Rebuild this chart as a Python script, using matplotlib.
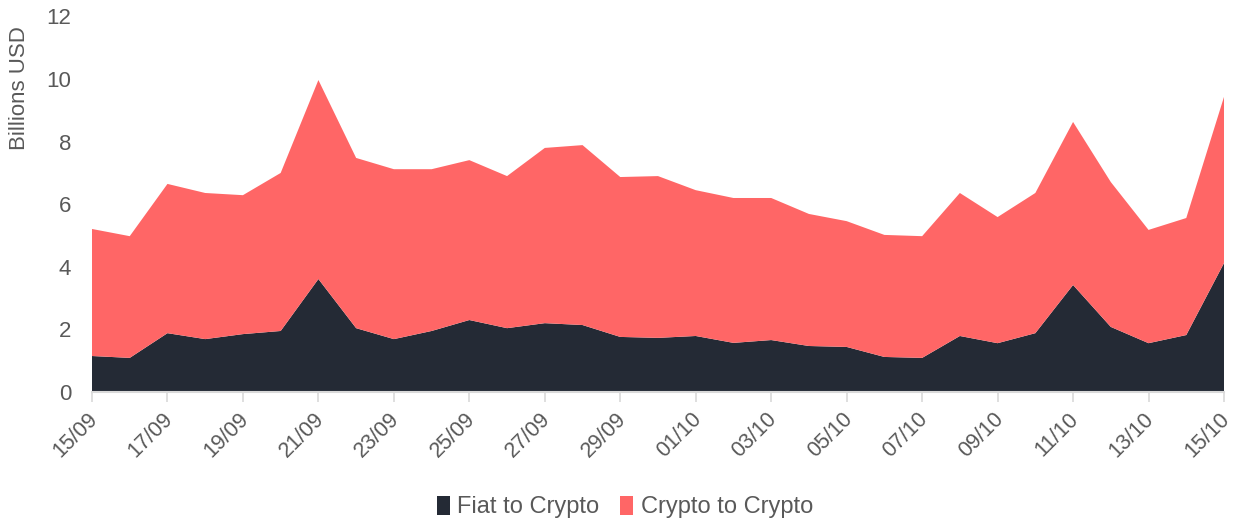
import matplotlib
matplotlib.use("Agg")
import matplotlib.pyplot as plt
import matplotlib.transforms as mtransforms
import numpy as np

plt.rcParams['font.family'] = ['Liberation Sans', 'DejaVu Sans']

dates = ["15/09", "16/09", "17/09", "18/09", "19/09", "20/09", "21/09", "22/09",
         "23/09", "24/09", "25/09", "26/09", "27/09", "28/09", "29/09", "30/09",
         "01/10", "02/10", "03/10", "04/10", "05/10", "06/10", "07/10", "08/10",
         "09/10", "10/10", "11/10", "12/10", "13/10", "14/10", "15/10"]
fiat_to_crypto = [1.15, 1.09, 1.88, 1.69, 1.85, 1.95, 3.61, 2.04,
                  1.69, 1.95, 2.30, 2.04, 2.20, 2.14, 1.76, 1.73,
                  1.79, 1.57, 1.66, 1.47, 1.44, 1.12, 1.09, 1.79,
                  1.56, 1.88, 3.42, 2.08, 1.56, 1.82, 4.12]
total = [5.21, 4.98, 6.65, 6.36, 6.29, 7.00, 9.97, 7.48,
         7.12, 7.12, 7.41, 6.90, 7.80, 7.89, 6.87, 6.90,
         6.45, 6.20, 6.20, 5.69, 5.46, 5.02, 4.98, 6.36,
         5.59, 6.36, 8.63, 6.71, 5.18, 5.56, 9.43]
crypto_to_crypto = [round(t - f, 2) for t, f in zip(total, fiat_to_crypto)]

c_fiat = "#242a35"
c_crypto = "#ff6666"
gray = "#595959"

fig = plt.figure(figsize=(12.35, 5.25), dpi=100)
ax = fig.add_axes([92/1235, 1 - 392/525, (1224-92)/1235, (392-16.5)/525])

x = np.arange(len(dates))
ax.stackplot(x, fiat_to_crypto, crypto_to_crypto, colors=[c_fiat, c_crypto],
             labels=["Fiat to Crypto", "Crypto to Crypto"], linewidth=0)

ax.set_xlim(0, len(dates) - 1)
ax.set_ylim(0, 12)
ax.set_yticks(range(0, 13, 2))
ax.set_xticks(x[::2])
ax.set_xticklabels(dates[::2], rotation=45, ha="right", rotation_mode="anchor")

for s in ["top", "right", "left"]:
    ax.spines[s].set_visible(False)
ax.spines["bottom"].set_color("#d9d9d9")
ax.spines["bottom"].set_linewidth(1.5)
ax.tick_params(axis="y", length=0, labelsize=16, labelcolor=gray, pad=15)
ax.tick_params(axis="x", length=7, width=1.2, color="#d9d9d9", labelsize=15.5,
               labelcolor=gray, pad=3)
offset = mtransforms.ScaledTranslation(-5/100, -3/100, fig.dpi_scale_trans)
for lbl in ax.get_xticklabels():
    lbl.set_transform(lbl.get_transform() + offset)

ax.set_ylabel("Billions USD", fontsize=16, color=gray)
ax.yaxis.set_label_coords(-0.0545, 0.81)

leg = fig.legend(loc="center", bbox_to_anchor=(0.506, 1 - 507/525), ncol=2,
                 frameon=False, fontsize=17, handlelength=0.55, handleheight=0.9,
                 handletextpad=0.3, columnspacing=0.9)
for t in leg.get_texts():
    t.set_color(gray)

fig.savefig("out.png", dpi=100)
